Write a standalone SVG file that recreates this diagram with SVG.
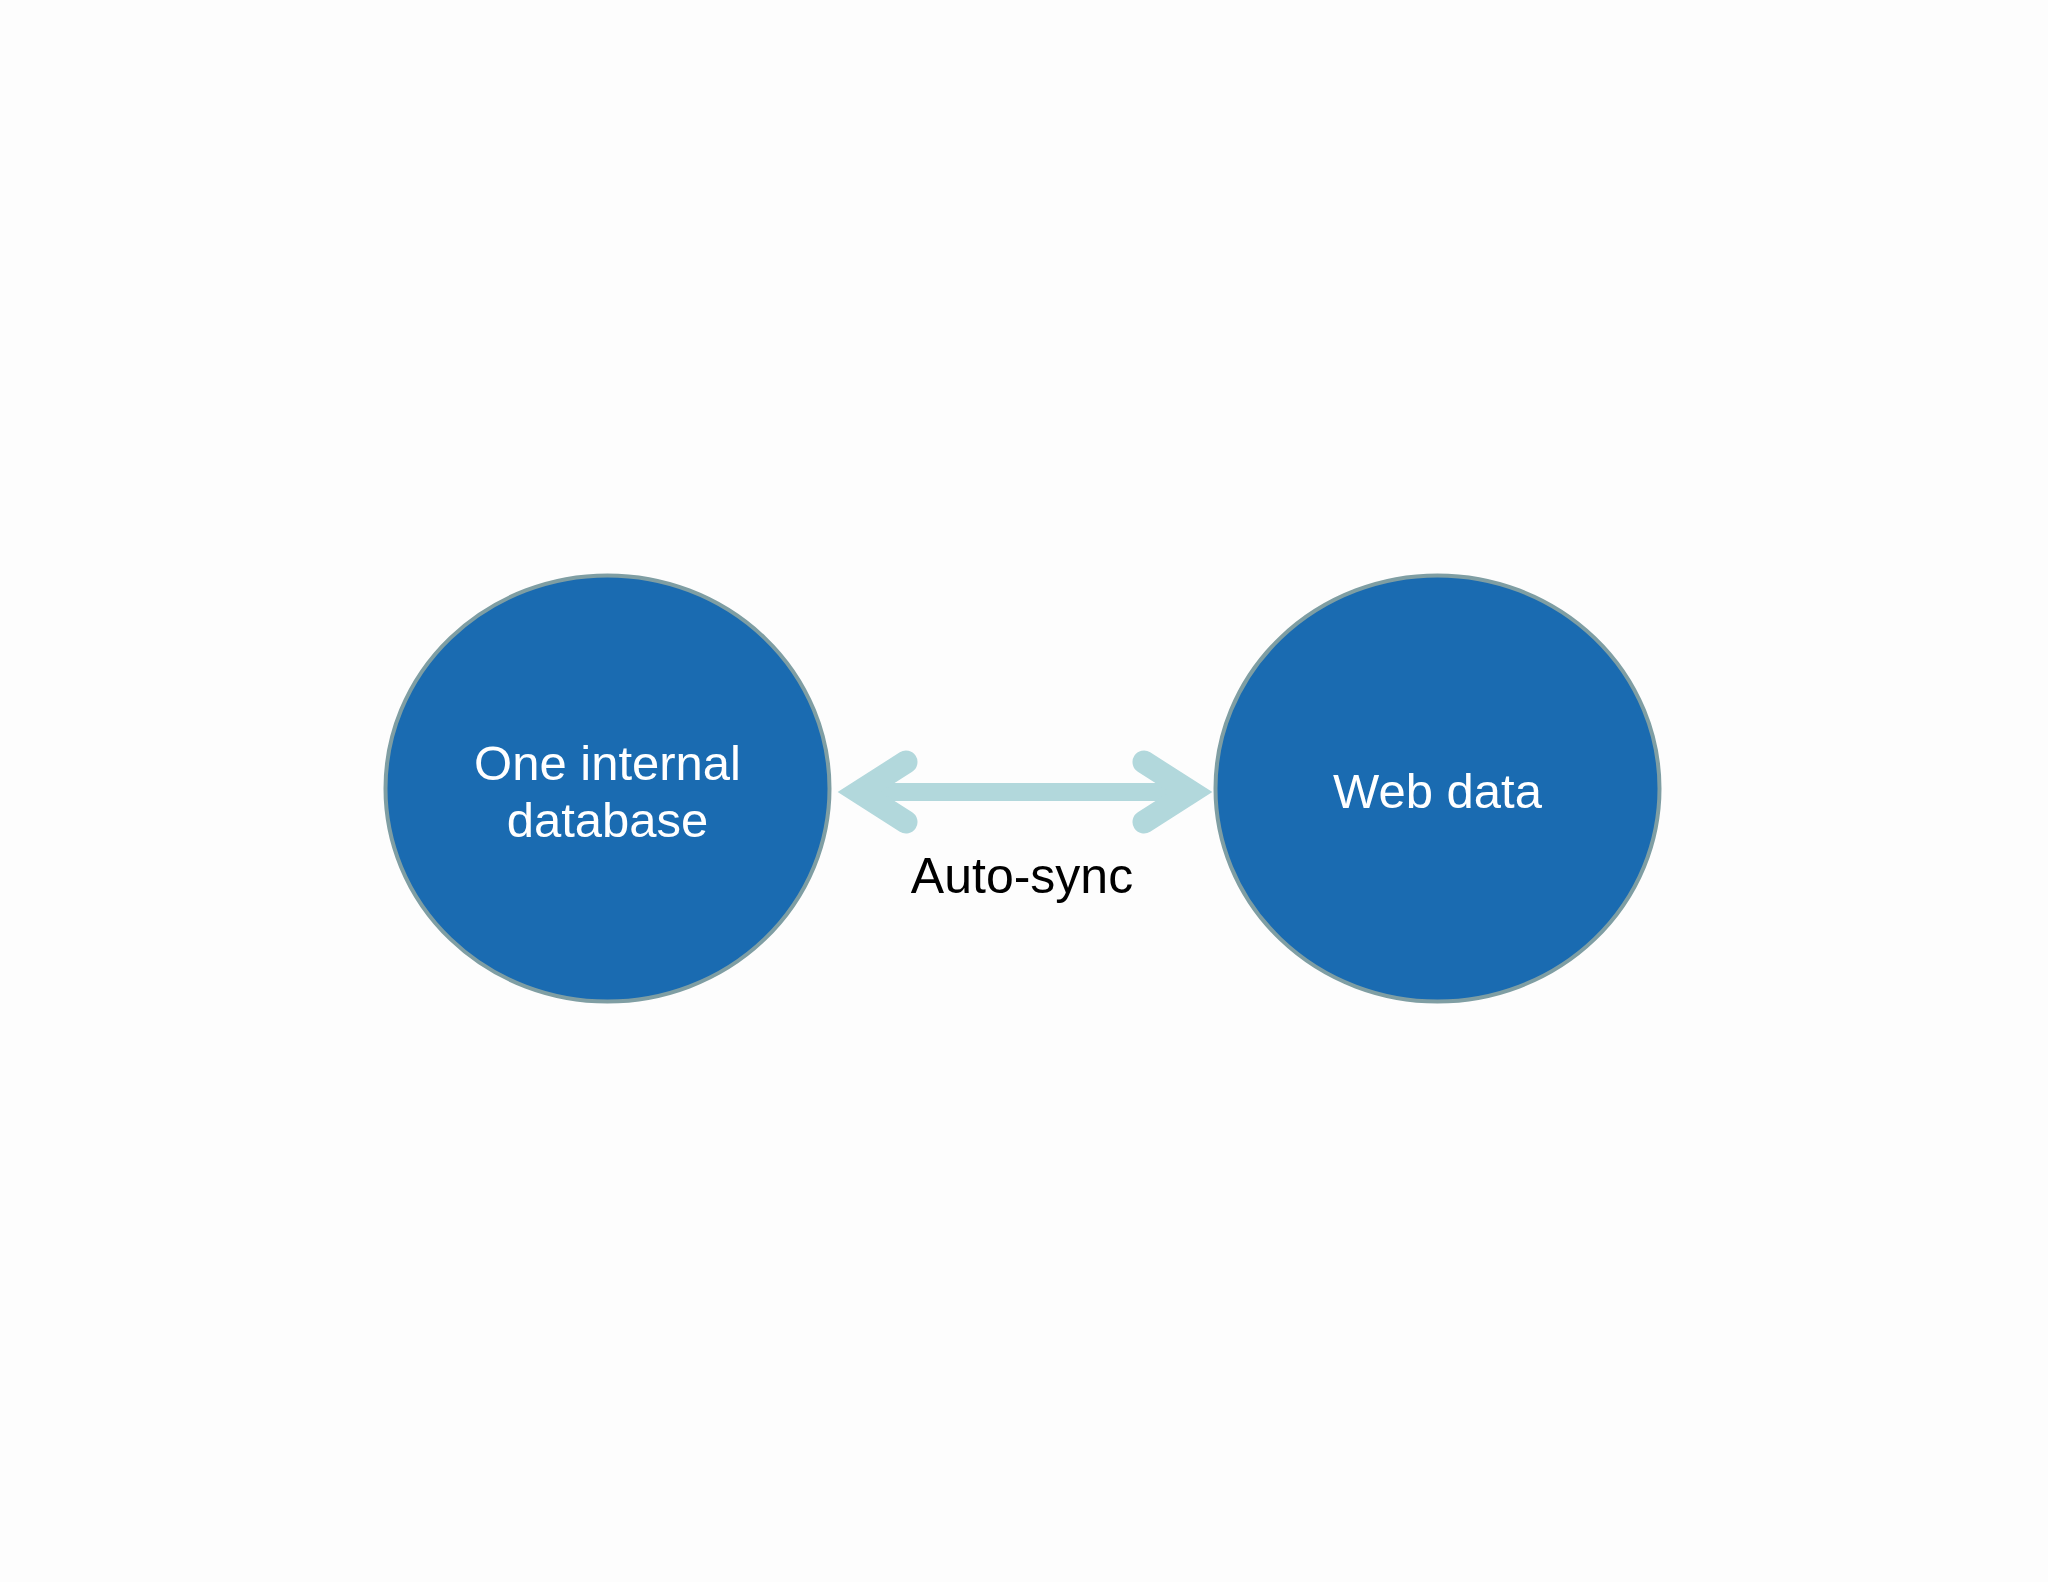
<svg xmlns="http://www.w3.org/2000/svg" width="2048" height="1582" viewBox="0 0 2048 1582">
<style>
.node{fill:#1a6bb1;stroke:#7f9ea3;stroke-width:4}
.nt{fill:#ffffff;font-family:"Liberation Sans",Arial,sans-serif;font-size:49px;text-anchor:middle}
.lbl{fill:#000000;font-family:"Liberation Sans",Arial,sans-serif;font-size:50px;text-anchor:middle}
.shaft{fill:none;stroke:#b2d8dc;stroke-width:18}
.head{fill:none;stroke:#b2d8dc;stroke-width:23;stroke-linecap:round;stroke-linejoin:miter;stroke-miterlimit:10}
</style>
<rect width="2048" height="1582" fill="#fdfdfd"/>
<g id="connectors">
<path class="shaft" d="M860 792 H1190"/>
<path class="head" d="M906 762 L859 792 L906 822"/>
<path class="head" d="M1144 762 L1191 792 L1144 822"/>
<text class="lbl" x="1022" y="893">Auto-sync</text>
</g>
<g id="node-internal-db">
<ellipse class="node" cx="607.5" cy="788.5" rx="222" ry="213"/>
<text class="nt" x="607.5" y="780">One internal</text>
<text class="nt" x="607.5" y="837">database</text>
</g>
<g id="node-web-data">
<ellipse class="node" cx="1437.5" cy="788.5" rx="222" ry="213"/>
<text class="nt" x="1437.5" y="808">Web data</text>
</g>
</svg>
